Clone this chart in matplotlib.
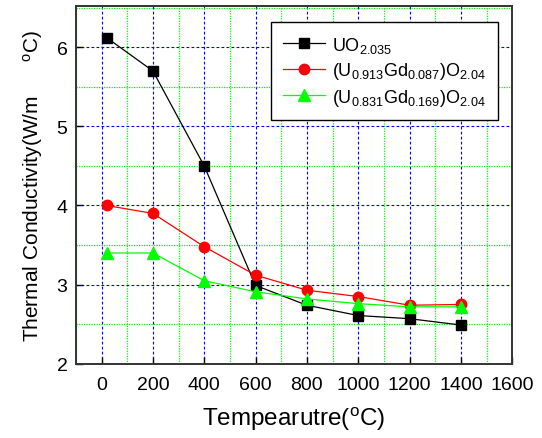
"""
Thermal conductivity of UO2 and (U,Gd)O2 vs temperature
"""

import matplotlib.pyplot as plt
from matplotlib.ticker import MultipleLocator

plt.rcParams.update({
    "font.family": ["Liberation Sans", "DejaVu Sans"],
    "mathtext.fontset": "custom",
    "mathtext.rm": "Liberation Sans",
    "mathtext.it": "Liberation Sans",
})

temps    = [20, 200, 400, 600, 800, 1000, 1200, 1400]
uo2      = [6.12, 5.70, 4.50, 2.99, 2.74, 2.61, 2.57, 2.49]
gd_087   = [4.00, 3.90, 3.48, 3.12, 2.93, 2.85, 2.74, 2.75]
gd_169   = [3.40, 3.40, 3.05, 2.91, 2.82, 2.76, 2.72, 2.72]

labels = [r"UO$_{2.035}$",
          r"(U$_{0.913}$Gd$_{0.087}$)O$_{2.04}$",
          r"(U$_{0.831}$Gd$_{0.169}$)O$_{2.04}$"]

fig = plt.figure(figsize=(5.42, 4.39), dpi=100)
ax = fig.add_axes([0.140, 0.169, 0.805, 0.815])

ax.plot(temps, uo2, color="black", lw=0.9, marker="s", ms=7.2, label=labels[0])
ax.plot(temps, gd_087, color="red", lw=0.9, marker="o", ms=7.5, label=labels[1])
ax.plot(temps, gd_169, color="#00ff00", lw=0.9, marker="^", ms=8.5, label=labels[2])

ax.set_xlim(-100, 1600)
ax.set_ylim(2, 6.52)
ax.xaxis.set_major_locator(MultipleLocator(200))
ax.xaxis.set_minor_locator(MultipleLocator(100))
ax.yaxis.set_major_locator(MultipleLocator(1))
ax.yaxis.set_minor_locator(MultipleLocator(0.5))

ax.grid(which="major", color="#0000ff", ls=(0, (2.5, 2)), lw=0.8)
ax.grid(which="minor", color="#00ff00", ls=(0, (1, 1)), lw=0.9)
ax.set_axisbelow(True)

ax.tick_params(which="major", direction="in", length=5, labelsize=14, width=1)
ax.tick_params(axis="x", which="major", pad=9)
ax.tick_params(axis="y", which="major", pad=6)
ax.tick_params(which="minor", length=0)
for s in ax.spines.values():
    s.set_linewidth(1.4)
    s.set_color("#333333")

ax.set_xlabel(r"Tempearutre($^{\rm o}$C)", fontsize=17.5, labelpad=8)
ax.set_ylabel(r"Thermal Conductivity(W/m      $^{\rm o}$C)", fontsize=15, labelpad=8)

leg = ax.legend(loc="upper right", fontsize=13, frameon=True, fancybox=False,
                edgecolor="black", framealpha=1, handlelength=2.3,
                handletextpad=0.4, borderpad=0.7, labelspacing=0.3,
                borderaxespad=0, bbox_to_anchor=(0.968, 0.955))
leg.get_frame().set_linewidth(1.0)

fig.savefig("out.png", dpi=100)
